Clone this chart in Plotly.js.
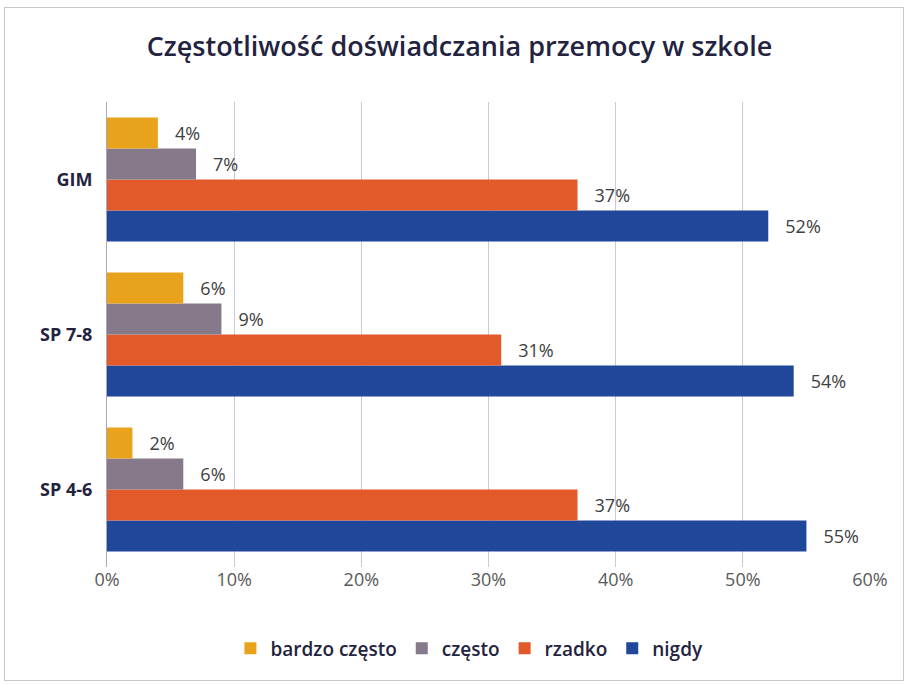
<!DOCTYPE html>
<html><head><meta charset="utf-8">
<script src="https://cdn.plot.ly/plotly-3.0.1.min.js"></script>
<style>html,body{margin:0;padding:0;background:#fff}#frame{position:absolute;left:4px;top:7px;width:900px;height:674px;border:1px solid #c8c8c8;box-sizing:border-box}#chart{position:absolute;left:0;top:0;width:910px;height:685px}</style>
</head><body><div id="frame"></div><div id="chart"></div>
<script>
const categories = ['SP 4-6', 'SP 7-8', 'GIM'];
const seriesNames = ['bardzo często', 'często', 'rzadko', 'nigdy'];
const bardzoCzesto = [2, 6, 4];
const czesto = [6, 9, 7];
const rzadko = [37, 31, 37];
const nigdy = [55, 54, 52];
const xTicks = [0, 10, 20, 30, 40, 50, 60];

const colors = {'bardzo często':'#E9A21C','często':'#86798A','rzadko':'#E2592A','nigdy':'#21479A'};
const values = {'bardzo często':bardzoCzesto,'często':czesto,'rzadko':rzadko,'nigdy':nigdy};

// Plotly draws the first trace at the bottom of each group
const order = ['nigdy','rzadko','często','bardzo często'];
const traces = order.map(n => ({
  type:'bar', orientation:'h', name:n,
  x: values[n], y: categories,
  marker:{color:colors[n]},
  text: values[n].map(v => v + '%'),
  texttemplate: '   %{text}',
  textposition:'outside', cliponaxis:false,
  textfont:{family:'Open Sans, sans-serif', size:18, color:'#404040'},
  hoverinfo:'skip'
}));

const layout = {
  width:910, height:685,
  paper_bgcolor:'rgba(0,0,0,0)', plot_bgcolor:'rgba(0,0,0,0)',
  margin:{l:107, r:40, t:102, b:118},
  title:{text:'Częstotliwość doświadczania przemocy w szkole', x:0.505, xanchor:'center', y:0.932, yanchor:'middle',
    font:{family:'Open Sans, sans-serif', size:27, color:'#23233f', weight:600}},
  barmode:'group', bargap:0.2, bargroupgap:0,
  xaxis:{range:[0,60], tickvals:xTicks, ticktext:xTicks.map(v=>v+'%'), showgrid:true, gridcolor:'#c9c9d9', gridwidth:1,
    zeroline:false, showline:false, ticks:'', ticklen:0,
    tickfont:{family:'Open Sans, sans-serif', size:18, color:'#595959'}},
  yaxis:{type:'category', categoryorder:'array', categoryarray:categories, showgrid:false, zeroline:false,
    showline:true, linecolor:'#a8a8b8', linewidth:1, ticks:'', ticklabelstandoff:10,
    tickfont:{family:'Open Sans, sans-serif', size:18, color:'#23233f', weight:700}},
  showlegend:true,
  legend:{orientation:'h', x:0.475, xanchor:'center', y:-0.175, yanchor:'middle', traceorder:'reversed',
    font:{family:'Open Sans, sans-serif', size:19, color:'#23233f', weight:600}, itemwidth:30, itemclick:false}
};
Plotly.newPlot('chart', traces, layout, {displayModeBar:false, staticPlot:true});
</script></body></html>
